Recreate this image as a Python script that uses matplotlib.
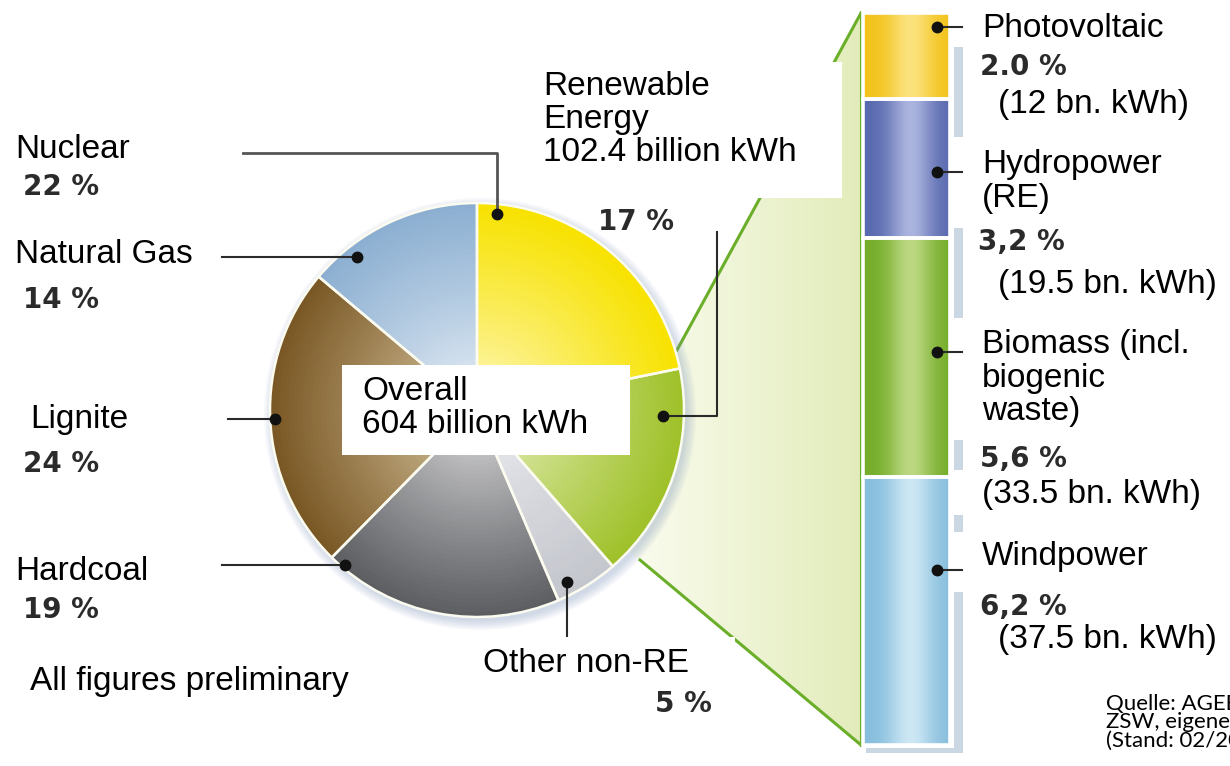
import numpy as np
import matplotlib.pyplot as plt
from matplotlib.colors import to_rgb, LinearSegmentedColormap
from matplotlib.patches import Polygon, Rectangle, Circle

# gross electricity generation, pie order clockwise from 12 o'clock
sources = ["Nuclear", "Renewable Energy", "Other non-RE", "Hardcoal", "Lignite", "Natural Gas"]
shares = [22, 17, 5, 19, 24, 14]
share_labels = ["22 %", "17 %", "5 %", "19 %", "24 %", "14 %"]
total_bn_kwh = 604
re_bn_kwh = 102.4

# renewable breakdown, column from bottom to top
re_sources = ["Windpower", "Biomass (incl.\nbiogenic\nwaste)", "Hydropower\n(RE)", "Photovoltaic"]
re_bn = [37.5, 33.5, 19.5, 12]
re_pct = ["6,2 %", "5,6 %", "3,2 %", "2.0 %"]

pie_rim = ["#F7E200", "#9FC12A", "#C4C6CD", "#5C5E62", "#7A5825", "#8CAFD1"]
pie_mid = ["#FFF9CC", "#EFF5CF", "#EEEFF3", "#E4E4E4", "#E6D6B2", "#F0F5FA"]
bar_base = ["#86BEDD", "#74AC28", "#5868AE", "#F3C31A"]
bar_light = ["#CDE7F4", "#BCD882", "#AAB4DE", "#FBE27C"]

ARIAL = ["Liberation Sans", "DejaVu Sans"]
W, H = 1230, 766


def yy(v):
    # pixel rows counted from the top
    return H - v


fig = plt.figure(figsize=(W / 100, H / 100), dpi=100)
fig.patch.set_facecolor("white")
ax = fig.add_axes([0, 0, 1, 1])
ax.set_facecolor("white")

C = (477, yy(410))
R = 207

# light green fan from the RE slice to the column
fan = Polygon([(677, yy(350)), (861, yy(13)), (861, yy(745)), (640, yy(560)), C],
              closed=True, facecolor="none", edgecolor="none")
ax.add_patch(fan)
fan_cmap = LinearSegmentedColormap.from_list("fan", ["#FAFCEF", "#E2ECBA"])
im = ax.imshow(np.linspace(0, 1, 256)[None, :], cmap=fan_cmap, aspect="auto",
               extent=(630, 862, yy(745), yy(13)), zorder=1)
im.set_clip_path(fan)
ax.plot([677, 861], [yy(350), yy(13)], color="#6BAE2A", lw=2.2, zorder=1.2)
ax.plot([640, 861], [yy(560), yy(745)], color="#6BAE2A", lw=2.2, zorder=1.2)
ax.plot([861, 861], [yy(13), yy(745)], color="#6BAE2A", lw=2.2, zorder=1.2)

# soft halo behind the pie
for i in range(7):
    ax.add_patch(Circle((C[0] + 3, C[1] - 4), R + 9 - i * 1.5, color="#8197BE",
                        alpha=0.06, lw=0, zorder=2))

# radial shading: stacked pies shrinking toward a lighter centre
rim_rgb = np.array([to_rgb(c) for c in pie_rim])
mid_rgb = np.array([to_rgb(c) for c in pie_mid])
n_layers = 45
for k in range(n_layers, 0, -1):
    t = k / n_layers
    cols = mid_rgb + (rim_rgb - mid_rgb) * t ** 0.85
    ax.pie(shares, radius=R * t, center=C, startangle=90, counterclock=False,
           colors=cols, frame=True, wedgeprops=dict(linewidth=0, zorder=3))
wedges, _ = ax.pie(shares, radius=R, center=C, startangle=90, counterclock=False,
                   frame=True, wedgeprops=dict(facecolor="none", edgecolor="#FBFBF0",
                                               linewidth=1.8, zorder=4))


def wedge_point(w, f, rf):
    ang = np.deg2rad(w.theta2 - f * (w.theta2 - w.theta1))
    return C[0] + rf * R * np.cos(ang), C[1] + rf * R * np.sin(ang)


lead = dict(color="#2A2A2A", lw=1.5, zorder=6)
dot = dict(marker="o", ms=7.5, color="#111111", zorder=6.5, ls="none")
# where the leader dot sits inside each wedge (fraction along, fraction of radius)
dot_spot = {"Nuclear": (0.075, 0.95), "Renewable Energy": (0.22, 0.9),
            "Other non-RE": (0.75, 0.94), "Hardcoal": (0.94, 0.985),
            "Lignite": (0.5, 0.975), "Natural Gas": (0.24, 0.94)}
dots = {}
for w, name in zip(wedges, sources):
    dots[name] = wedge_point(w, *dot_spot[name])
    ax.plot(*dots[name], **dot)

x, y = dots["Nuclear"]
ax.plot([243, x, x], [yy(153), yy(153), y], color="#555555", lw=2, zorder=6)
for name, x0 in [("Natural Gas", 222), ("Lignite", 228), ("Hardcoal", 222)]:
    x, y = dots[name]
    ax.plot([x0, x], [y, y], **lead)
x, y = dots["Other non-RE"]
ax.plot([x, x], [y, yy(640)], **lead)
x, y = dots["Renewable Energy"]
ax.plot([x, 717, 717], [y, y, yy(232)], **lead)

# column shadow, white frame and white label backgrounds
ax.add_patch(Rectangle((866, yy(753)), 97, 736, color="#CCD7E4", lw=0, zorder=1.5))
ax.add_patch(Rectangle((862, yy(748)), 92, 739, color="white", lw=0, zorder=1.6))
for top_px, bot_px in [(0, 47), (137, 228), (318, 440), (470, 515), (532, 592)]:
    ax.add_patch(Rectangle((953, yy(bot_px)), W - 953, bot_px - top_px,
                           color="white", lw=0, zorder=1.7))
for x0, y0, x1, y1 in [(540, 62, 842, 198), (342, 365, 630, 455), (463, 637, 735, 700)]:
    ax.add_patch(Rectangle((x0, yy(y1)), x1 - x0, y1 - y0, color="white", lw=0, zorder=7))

ax.set_xlim(0, W)
ax.set_ylim(0, H)
ax.set_aspect("auto")
ax.axis("off")

# stacked renewable column
bax = fig.add_axes([863 / W, yy(745) / H, 87 / W, (745 - 13) / H])
bax.set_facecolor("none")
bottoms = np.concatenate([[0], np.cumsum(re_bn)[:-1]])
bars = bax.bar(0, re_bn, bottom=bottoms, width=1, color=bar_base, lw=0, zorder=2)
xs = np.linspace(0, 1, 120)
prof = np.exp(-((xs - 0.55) / 0.26) ** 2)
for patch, b, l, v, b0 in zip(bars, bar_base, bar_light, re_bn, bottoms):
    c0, c1 = np.array(to_rgb(b)), np.array(to_rgb(l))
    img = c0[None, None, :] + (c1 - c0)[None, None, :] * prof[None, :, None]
    gi = bax.imshow(img, extent=(-0.5, 0.5, b0, b0 + v), aspect="auto", zorder=3)
    gi.set_clip_path(patch)
bax.bar(0, re_bn, bottom=bottoms, width=1, facecolor="none", edgecolor="white",
        lw=2.6, zorder=4, clip_on=False)
bax.set_xlim(-0.5, 0.5)
bax.set_ylim(0, sum(re_bn))
bax.axis("off")

# overlay for text and the column leaders
top = fig.add_axes([0, 0, 1, 1])
top.set_facecolor("none")
top.set_xlim(0, W)
top.set_ylim(0, H)
top.axis("off")

name_kw = dict(family=ARIAL, fontsize=24, color="black", va="baseline", zorder=10)
pct_kw = dict(family="DejaVu Sans", fontweight="bold", fontsize=20, color="#2B2B2B",
              va="baseline", zorder=10)


def put_lines(x, y0, text, dy, **kw):
    for i, line in enumerate(text.split("\n")):
        top.text(x, yy(y0 + i * dy), line, **kw)


name_pos = {"Nuclear": (15, 158), "Natural Gas": (15, 263), "Lignite": (30, 428),
            "Hardcoal": (15, 580), "Other non-RE": (483, 672)}
pct_pos = {"Nuclear": (23, 195), "Natural Gas": (23, 308), "Lignite": (23, 472),
           "Hardcoal": (23, 618), "Other non-RE": (655, 712), "Renewable Energy": (598, 230)}
for name, lab in zip(sources, share_labels):
    if name in name_pos:
        put_lines(*name_pos[name], name, 33, **name_kw)
    put_lines(*pct_pos[name], lab, 33, **pct_kw)

put_lines(543, 95, f"Renewable\nEnergy\n{re_bn_kwh} billion kWh", 33, **name_kw)
put_lines(362, 400, f"Overall\n{total_bn_kwh} billion kWh", 33, **name_kw)
put_lines(30, 690, "All figures preliminary", 33, **name_kw)

# column labels, bottom to top like the data
re_layout = [  # name, pct, kWh, dot row
    ((982, 565), (980, 615), (998, 648), 570),
    ((982, 353), (980, 467), (982, 503), 352),
    ((982, 173), (978, 250), (998, 293), 172),
    ((982, 37), (980, 75), (998, 113), 27),
]
for name, pct, v, (npos, ppos, kpos, drow) in zip(re_sources, re_pct, re_bn, re_layout):
    put_lines(*npos, name, 33.5, **name_kw)
    put_lines(*ppos, pct, 33, **pct_kw)
    put_lines(*kpos, f"({v:g} bn. kWh)", 33, **name_kw)
    top.plot([937, 962], [yy(drow), yy(drow)], color="#2A2A2A", lw=1.5, zorder=9)
    top.plot(937, yy(drow), marker="o", ms=7.5, color="#111111", zorder=9.5)

# source note runs off the right edge
put_lines(1106, 710, "Quelle: AGEB, BDEW,\nZSW, eigene Berechnungen\n(Stand: 02/2011)", 18.5,
          family=["Lato", "DejaVu Sans"], fontsize=16, color="black", va="baseline")

fig.savefig("out.png", dpi=100, facecolor="white")
